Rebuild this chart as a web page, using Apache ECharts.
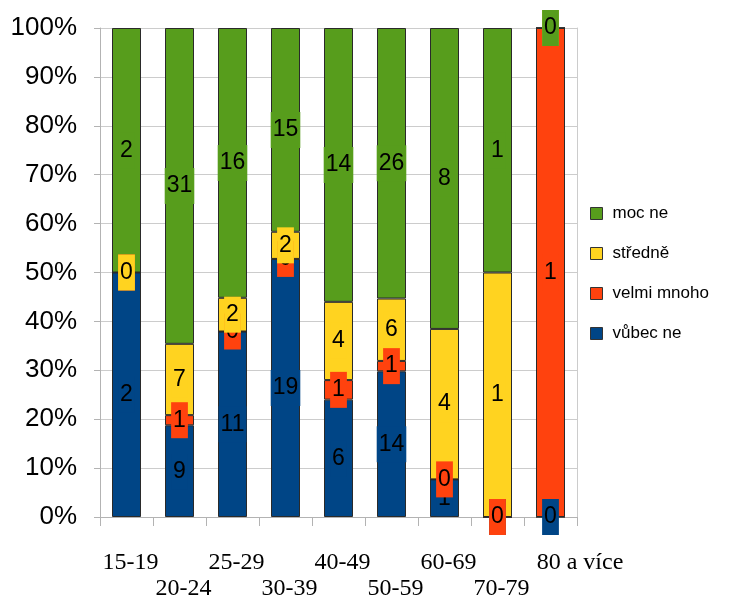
<!DOCTYPE html>
<html>
<head>
<meta charset="utf-8">
<script src="https://cdn.jsdelivr.net/npm/echarts@6/dist/echarts.min.js"></script>
<style>html,body{margin:0;padding:0;background:#fff;}#c{width:740px;height:599px;}</style>
</head>
<body>
<div id="c"></div>
<script>
var categories = ['15-19','20-24','25-29','30-39','40-49','50-59','60-69','70-79','80 a více'];
var vubecNe    = [2, 9, 11, 19, 6, 14, 1, 0, 0];
var velmiMnoho = [0, 1, 0, 0, 1, 1, 0, 0, 1];
var stredne    = [0, 7, 2, 2, 4, 6, 4, 1, 0];
var mocNe      = [2, 31, 16, 15, 14, 26, 8, 1, 0];
var yTicks = ['0%','10%','20%','30%','40%','50%','60%','70%','80%','90%','100%'];

var seriesDefs = [
  {name: 'vůbec ne', data: vubecNe, color: '#004586'},
  {name: 'velmi mnoho', data: velmiMnoho, color: '#ff420e'},
  {name: 'středně', data: stredne, color: '#ffd320'},
  {name: 'moc ne', data: mocNe, color: '#579d1c'}
];
var totals = categories.map(function(c, i){
  return seriesDefs.reduce(function(s, d){ return s + d.data[i]; }, 0);
});

var chart = echarts.init(document.getElementById('c'), null, {renderer: 'canvas'});
chart.setOption({
  animation: false,
  backgroundColor: '#fff',
  grid: {left: 100, right: 163, top: 28, bottom: 82, containLabel: false, outerBoundsMode: 'none'},
  legend: {
    orient: 'vertical', left: 585, top: 200,
    data: ['moc ne','středně','velmi mnoho','vůbec ne'],
    itemWidth: 12, itemHeight: 12, itemGap: 23,
    icon: 'rect',
    itemStyle: {borderColor: '#333', borderWidth: 1},
    textStyle: {fontFamily: 'Liberation Sans', fontSize: 17, color: '#000', padding: [0,0,0,5]}
  },
  xAxis: {
    type: 'category', data: categories,
    axisLine: {lineStyle: {color: '#b3b3b3', width: 1}},
    axisTick: {show: true, length: 9, lineStyle: {color: '#b3b3b3'}},
    axisLabel: {
      interval: 0, margin: 33, fontFamily: 'Liberation Serif', fontSize: 24, color: '#000', lineHeight: 26,
      padding: [0, 0, 0, 8],
      formatter: function(v, i){
        if (i === categories.length - 1) return '{s|' + v + '}';
        return i % 2 ? '\n' + v : v;
      },
      rich: {s: {fontFamily: 'Liberation Serif', fontSize: 24, color: '#000', lineHeight: 26, padding: [0, 0, 0, 51]}}
    },
    splitLine: {show: false}
  },
  yAxis: [{
    type: 'value', min: 0, max: 100, interval: 10,
    axisLine: {show: true, lineStyle: {color: '#b3b3b3'}},
    axisTick: {show: true, length: 6, lineStyle: {color: '#b3b3b3'}},
    axisLabel: {
      margin: 23, fontFamily: 'Liberation Sans', fontSize: 26, color: '#000',
      formatter: function(v){ return yTicks[Math.round(v / 10)]; }
    },
    splitLine: {show: true, lineStyle: {color: '#cccccc', width: 1}}
  }, {
    type: 'value', min: 0, max: 100, interval: 10, position: 'right',
    axisLine: {show: true, lineStyle: {color: '#cccccc'}},
    axisTick: {show: false}, axisLabel: {show: false}, splitLine: {show: false}
  }],
  series: seriesDefs.map(function(d){
    return {
      name: d.name, type: 'bar', stack: 'total', barWidth: 29, yAxisIndex: 0,
      itemStyle: {color: d.color, borderColor: '#2a2a2a', borderWidth: 1},
      label: {
        show: true, position: 'inside', fontFamily: 'Liberation Sans', fontSize: 23, color: '#000',
        backgroundColor: d.color, padding: [7, 2, 5, 2], lineHeight: 24,
        formatter: function(p){ return String(d.data[p.dataIndex]); }
      },
      data: d.data.map(function(v, i){ return totals[i] ? v / totals[i] * 100 : 0; })
    };
  })
});
</script>
</body>
</html>
